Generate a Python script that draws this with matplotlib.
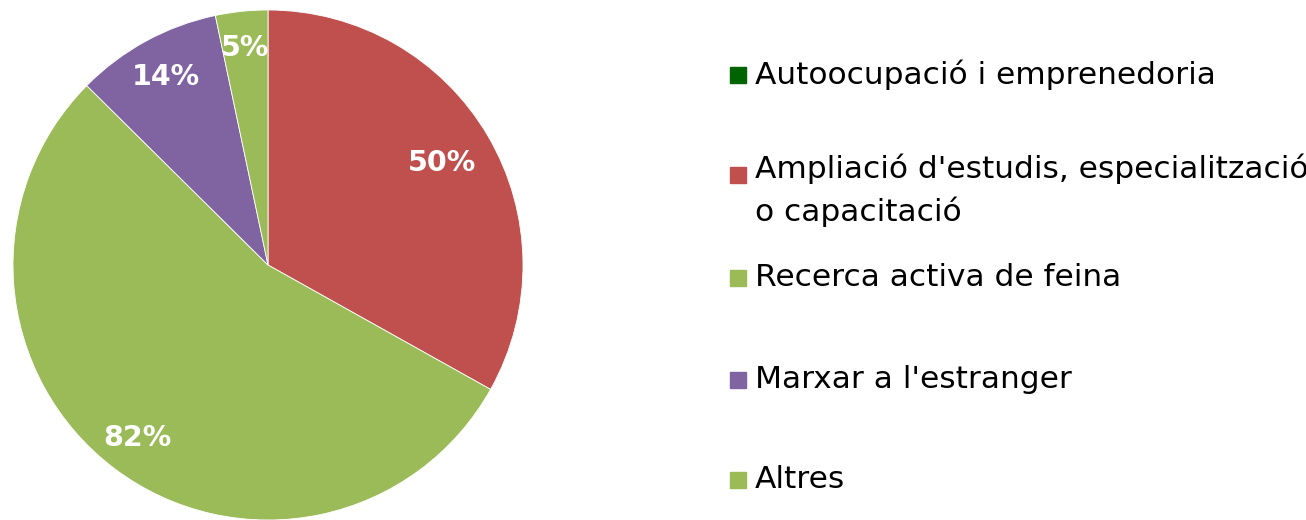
from matplotlib import pyplot as plt
from matplotlib.patches import Rectangle
import numpy as np

categories = ["Autoocupació i emprenedoria",
              "Ampliació d'estudis, especialització\no capacitació",
              "Recerca activa de feina",
              "Marxar a l'estranger",
              "Altres"]
values = [0, 50, 82, 14, 5]
colors = ['#006400', '#C0504D', '#9BBB59', '#8064A2', '#9BBB59']

W, H = 1306, 520
fig = plt.figure(figsize=(W / 100, H / 100), dpi=100)

# pie centred at (268, 265) px, radius 255 px
cx, cy, r = 268, 265, 255
ax = fig.add_axes([(cx - r) / W, (H - cy - r) / H, 2 * r / W, 2 * r / H])
wedges, _ = ax.pie(values, colors=colors, startangle=90, counterclock=False,
                   radius=1, wedgeprops=dict(linewidth=0.6, edgecolor='white'))
ax.set_xlim(-1, 1)
ax.set_ylim(-1, 1)
ax.set_aspect('equal')
ax.axis('off')

# percentage labels at the middle angle of each wedge
dists = [0.8, 0.79, 0.85, 0.84, 0.855]
for w, v, d in zip(wedges, values, dists):
    if v == 0:
        continue
    ang = np.deg2rad((w.theta1 + w.theta2) / 2)
    ax.text(d * np.cos(ang), d * np.sin(ang), f"{v}%", ha='center', va='center',
            color='white', fontsize=20.5, fontweight='bold')

# legend drawn by hand (uneven spacing as in the original)
ys = [75, 175, 278, 380, 480]
for lab, col, y in zip(categories, colors, ys):
    fig.patches.append(Rectangle((730 / W, (H - y - 8) / H), 16 / W, 16 / H,
                                 transform=fig.transFigure, color=col))
    if '\n' in lab:
        fig.text(755 / W, (H - y + 21) / H, lab, ha='left', va='top',
                 fontsize=22.5, color='black', linespacing=1.5)
    else:
        fig.text(755 / W, (H - y) / H, lab, ha='left', va='center',
                 fontsize=22.5, color='black')

plt.savefig('out.png', dpi=100)
